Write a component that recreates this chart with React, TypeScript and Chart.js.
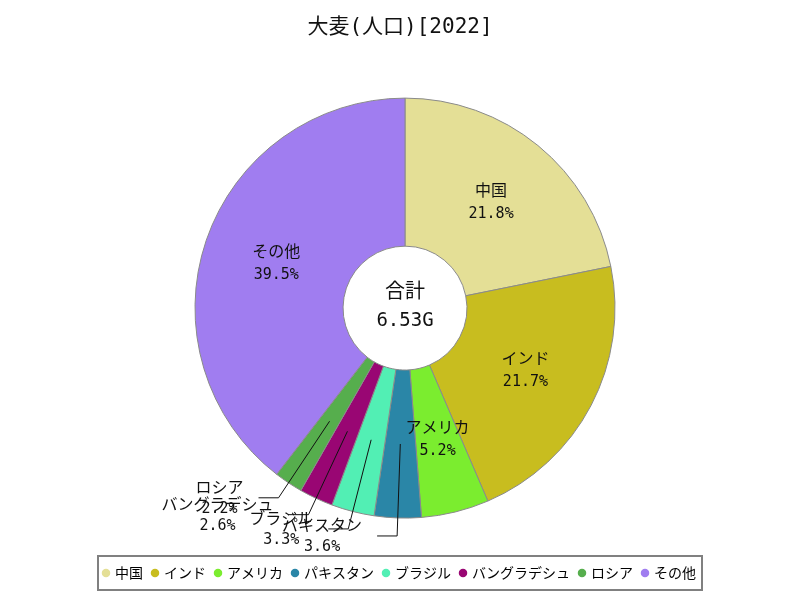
import React, { useEffect, useRef } from "react";
import { Chart, registerables } from "chart.js";

Chart.register(...registerables);

const FONT = '"Noto Sans CJK JP", "Noto Sans", sans-serif';
const MONO = '"DejaVu Sans Mono", "Noto Sans CJK JP", monospace';

const chartTitle = "大麦(人口)[2022]";
const categories = ["中国", "インド", "アメリカ", "パキスタン", "ブラジル", "バングラデシュ", "ロシア", "その他"];
const shares = [21.8, 21.7, 5.2, 3.6, 3.3, 2.6, 2.2, 39.5];
const sliceColors = ["#e4df96", "#c8bd1f", "#7bed2f", "#2a86a7", "#52efb4", "#990673", "#56ae4d", "#a07df0"];
const totalLabel = "合計";
const totalValue = "6.53G";

const layoutShift = {
  id: "layoutShift",
  afterLayout(chart: any) {
    const ca = chart.chartArea;
    ca.left += 10;
    ca.width = ca.right - ca.left;
  },
};

const NAME_FONT = `16px ${FONT}`;
const PCT_FONT = `15px ${MONO}`;

const sliceLabels = {
  id: "sliceLabels",
  afterDatasetsDraw(chart: any) {
    const ctx = chart.ctx;
    const meta = chart.getDatasetMeta(0);
    ctx.save();
    ctx.fillStyle = "#111";
    ctx.strokeStyle = "#111";
    ctx.lineWidth = 1;
    ctx.textAlign = "center";
    ctx.textBaseline = "middle";
    let cx0 = 0, cy0 = 0;
    meta.data.forEach((arc: any, i: number) => {
      const p = arc.getProps(["x", "y", "startAngle", "endAngle", "innerRadius", "outerRadius"], true);
      cx0 = p.x; cy0 = p.y;
      const mid = (p.startAngle + p.endAngle) / 2;
      const rMid = (p.innerRadius + p.outerRadius) / 2;
      const pct = shares[i].toFixed(1) + "%";
      const cos = Math.cos(mid), sin = Math.sin(mid);
      if (shares[i] >= 5) {
        const tx = p.x + cos * rMid, ty = p.y + sin * rMid;
        ctx.font = NAME_FONT;
        ctx.fillText(categories[i], tx, ty - 13);
        ctx.font = PCT_FONT;
        ctx.fillText(pct, tx, ty + 11);
      } else {
        const sx = p.x + cos * rMid, sy = p.y + sin * rMid;
        const ex = p.x + cos * (p.outerRadius + 18), ey = p.y + sin * (p.outerRadius + 18);
        const side = cos < 0 ? -1 : 1;
        const hx = ex + side * 20;
        ctx.beginPath();
        ctx.moveTo(sx, sy);
        ctx.lineTo(ex, ey);
        ctx.lineTo(hx, ey);
        ctx.stroke();
        ctx.font = NAME_FONT;
        const w1 = ctx.measureText(categories[i]).width;
        ctx.font = PCT_FONT;
        const w2 = ctx.measureText(pct).width;
        const w = Math.max(w1, w2);
        const tx = hx + side * (15 + w / 2);
        ctx.font = NAME_FONT;
        ctx.fillText(categories[i], tx, ey - 11);
        ctx.font = PCT_FONT;
        ctx.fillText(pct, tx, ey + 11);
      }
    });
    ctx.font = `20px ${FONT}`;
    ctx.fillText(totalLabel, cx0, cy0 - 18);
    ctx.font = `19px ${MONO}`;
    ctx.fillText(totalValue, cx0, cy0 + 13);
    ctx.restore();
  },
};

const legendBorder = {
  id: "legendBorder",
  afterDraw(chart: any) {
    const lg = chart.legend;
    if (!lg || !lg.legendHitBoxes || !lg.legendHitBoxes.length) return;
    const boxes = lg.legendHitBoxes;
    let minX = Infinity, maxX = -Infinity;
    boxes.forEach((b: any) => {
      minX = Math.min(minX, b.left);
      maxX = Math.max(maxX, b.left + b.width);
    });
    const ctx = chart.ctx;
    ctx.save();
    ctx.strokeStyle = "#808080";
    ctx.lineWidth = 2;
    ctx.strokeRect(minX - 6, lg.top, maxX - minX + 12, lg.bottom - lg.top);
    ctx.restore();
  },
};

export default function App() {
  const ref = useRef<HTMLCanvasElement>(null);
  useEffect(() => {
    if (!ref.current) return;
    const chart = new Chart(ref.current, {
      type: "doughnut",
      data: {
        labels: categories,
        datasets: [
          {
            data: shares,
            backgroundColor: sliceColors,
            borderColor: "#8a8a8a",
            borderWidth: 1,
            radius: 210,
            cutout: "29.5%",
          } as any,
        ],
      },
      options: {
        responsive: false,
        animation: false,
        layout: { padding: { top: 0, bottom: 10, left: 0, right: 0 } },
        plugins: {
          title: {
            display: true,
            text: chartTitle,
            color: "#111",
            font: { family: MONO, size: 21, weight: "normal", lineHeight: 1.2 },
            padding: { top: 15, bottom: 20 },
          },
          legend: {
            position: "bottom",
            labels: {
              font: { family: FONT, size: 14 },
              color: "#111",
              usePointStyle: true,
              boxWidth: 4,
              boxHeight: 6,
              padding: 10,
              generateLabels: () =>
                categories.map((c, i) => ({
                  text: c,
                  fillStyle: sliceColors[i],
                  strokeStyle: sliceColors[i],
                  lineWidth: 0,
                  pointStyle: "circle",
                  hidden: false,
                  index: i,
                })),
            },
          },
          tooltip: { enabled: false },
        },
      },
      plugins: [layoutShift, sliceLabels, legendBorder],
    });
    return () => chart.destroy();
  }, []);
  return (
    <div style={{ position: "absolute", left: 0, top: 0, width: 800, height: 600 }}>
      <canvas ref={ref} width={800} height={600} style={{ display: "block" }} />
    </div>
  );
}
